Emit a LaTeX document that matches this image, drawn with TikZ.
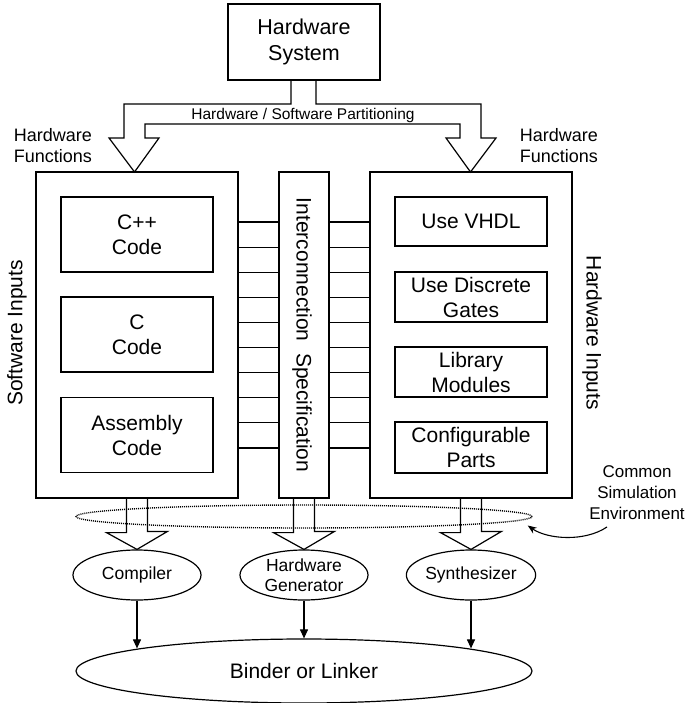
\documentclass[tikz,border=0pt]{standalone}
\usepackage{fontspec}
\setmainfont{Liberation Sans}
\usetikzlibrary{shapes.geometric,arrows.meta}

\tikzset{
	box/.style={draw,line width=1.2pt,inner sep=0pt,align=center},
	inbox/.style={box,minimum width=152pt,font=\fontsize{21}{25}\selectfont},
	oval/.style={draw,ellipse,line width=1.2pt,inner sep=0pt,minimum width=128pt,minimum height=50pt,align=center,font=\fontsize{17.5}{20}\selectfont},
	tip/.style={-{Triangle[length=9pt,width=8pt]},line width=1.1pt},
}

\begin{document}
\begin{tikzpicture}[x=1pt,y=-1pt,line width=1.2pt]
	\useasboundingbox (0,0) rectangle (689,703);
	\node [box,minimum width=152pt,minimum height=76pt,font=\fontsize{21.5}{26}\selectfont] (hwsys) at (304,42) {Hardware\\System};
	\node [box,minimum width=202pt,minimum height=326pt] (swin) at (137,335) {};
	\node [box,minimum width=50pt,minimum height=326pt] (icspec) at (304,335) {};
	\node [box,minimum width=202pt,minimum height=326pt] (hwin) at (471,335) {};
	\node [inbox,minimum height=75pt] (cpp) at (137,234.5) {C++\\Code};
	\node [inbox,minimum height=75pt] (ccode) at (137,334.5) {C\\Code};
	\node [inbox,minimum height=75pt] (asm) at (137,435) {Assembly\\Code};
	\node [inbox,minimum height=49pt] (vhdl) at (471,221.5) {Use VHDL};
	\node [inbox,minimum height=50pt] (gates) at (471,297) {Use Discrete\\Gates};
	\node [inbox,minimum height=50pt] (libmod) at (471,372) {Library\\Modules};
	\node [inbox,minimum height=51pt] (parts) at (471,447.5) {Configurable\\Parts};
	\node [rotate=90,font=\fontsize{21}{25}\selectfont] (swlabel) at (17,333) {Software Inputs};
	\node [rotate=-90,font=\fontsize{21}{25}\selectfont] (hwlabel) at (592,333) {Hardware Inputs};
	\node [rotate=-90,font=\fontsize{21}{25}\selectfont] (iclabel) at (302,335) {Interconnection\ \ Specification};
	\node [font=\fontsize{15.5}{18}\selectfont] (partlabel) at (303,115) {Hardware / Software Partitioning};
	\node [anchor=west,align=left,font=\fontsize{18}{21}\selectfont] (fnleft) at (10,145.5) {Hardware\\Functions};
	\node [anchor=west,align=left,font=\fontsize{18}{21}\selectfont] (fnright) at (516,145.5) {Hardware\\Functions};
	\node [draw,ellipse,dash pattern=on 1pt off 1pt,line width=1.4pt,minimum width=456pt,minimum height=23pt] (simenv) at (304,516.5) {};
	\node [oval] (comp) at (137,575) {Compiler};
	\node [oval] (gen) at (304,575) {Hardware\\Generator};
	\node [oval] (synth) at (471,575) {Synthesizer};
	\node [oval,minimum width=456pt,minimum height=64pt,font=\fontsize{21}{25}\selectfont] (binder) at (304,671) {Binder or Linker};
	\node [align=center,font=\fontsize{17}{21}\selectfont] (envlabel) at (637,493) {Common\\Simulation\\Environment};
	\draw (291,80) |- (124,104) -- (124,138) -- (109,138) -- (134.5,172) -- (159,138) -- (145,138) |- (460,124) -- (460,138) -- (446,138) -- (470.5,172) -- (496,138) -- (481,138) |- (316,104) -- (316,80);
	\foreach \k in {0,...,9}{
		\draw (swin.east |- 0,222+25.1*\k) -- (icspec.west |- 0,222+25.1*\k);
		\draw (icspec.east |- 0,222+25.1*\k) -- (hwin.west |- 0,222+25.1*\k);
	}
	\foreach \a/\b in {swin/comp,icspec/gen,hwin/synth}
		\draw (\a.south) ++(-10.5,0) -- ++(0,34) -- ++(-20,0) -- (\b.north) -- ++(30.5,-18) -- ++(-20,0) -- ++(0,-34);
	\draw [tip] (comp.south) -- ([yshift=-10pt]binder.north -| comp.south);
	\draw [tip] (gen.south) -- (binder.north);
	\draw [tip] (synth.south) -- ([yshift=-10pt]binder.north -| synth.south);
	\draw [-{Stealth[length=9pt,width=7pt]},line width=1.1pt] ([xshift=-30pt,yshift=-3pt]envlabel.south) .. controls +(-22,15) and +(20,14) .. ([xshift=-5pt,yshift=-9pt]simenv.east);
\end{tikzpicture}
\end{document}
